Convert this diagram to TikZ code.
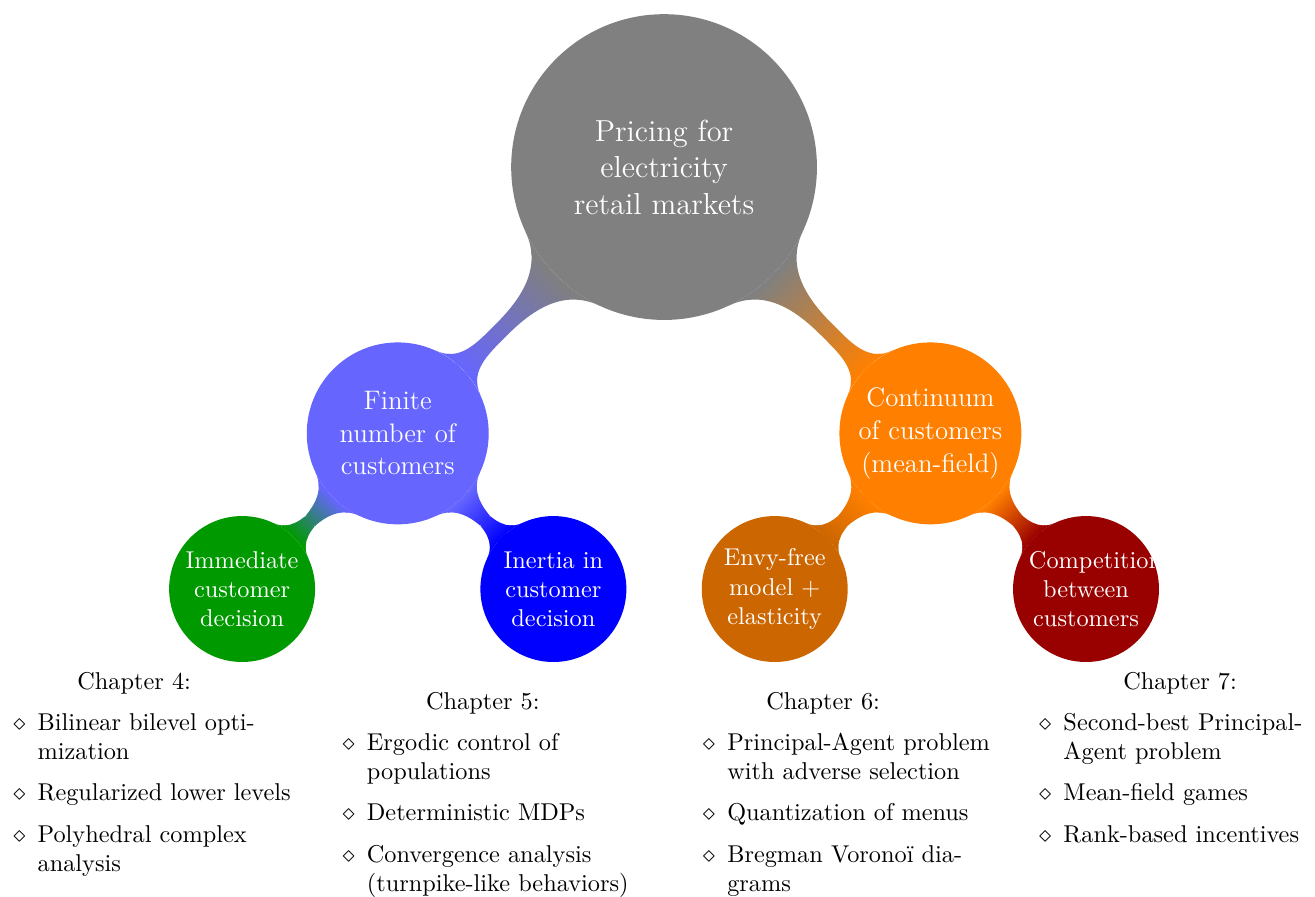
\documentclass[tikz,border=0pt]{standalone}
\usetikzlibrary{mindmap}
\hyphenation{populations}

\makeatletter
\newenvironment{chapitems}{%
  \begin{list}{$\diamond$}{%
    \setlength{\leftmargin}{11.5pt}%
    \setlength{\labelsep}{5pt}%
    \setlength{\labelwidth}{6.5pt}%
    \setlength{\itemsep}{5pt}%
    \setlength{\parsep}{0pt}%
    \setlength{\topsep}{0pt}%
    \setlength{\partopsep}{0pt}%
    \@rightskip=0pt plus 2em\relax
    \tolerance=1000\relax}}%
  {\end{list}}
\makeatother

\tikzset{
  topic/.style={circle, fill=gray, text=white, inner sep=0pt, minimum size=4.42cm, text width=2.85cm, align=flush center, font=\fontsize{12.5}{15}\selectfont},
  branch/.style={circle, text=white, inner sep=0pt, minimum size=2.63cm, text width=2.2cm, align=flush center, font=\fontsize{11}{13.4}\selectfont},
  leaf/.style={circle, text=white, inner sep=0pt, minimum size=2.11cm, text width=1.65cm, align=flush center, font=\normalsize},
  chapter/.style={anchor=base, font=\normalsize},
  notes/.style={anchor=base west, inner sep=0pt, align=left, font=\normalsize},
}

\begin{document}
\begin{tikzpicture}[mindmap]
\useasboundingbox (-9.60,2.415) rectangle (9.41,-10.54);

% concepts
\node[topic] (pricing) at (0,0) {Pricing for electricity retail markets};

\node[branch, fill=blue!60] (finite) at (-3.85,-3.85) {Finite number of customers};
\node[branch, fill=orange] (continuum) at (3.85,-3.85) {Continuum of customers (mean-field)};

\node[leaf, fill=green!60!black] (immediate) at (-6.10,-6.10) {Immediate customer decision};
\node[leaf, fill=blue] (inertia) at (-1.60,-6.10) {Inertia in customer decision};
\node[leaf, fill=orange!80!black] (envy) at (1.60,-6.10) {Envy-free model + elasticity};
\node[leaf, fill=red!60!black] (competition) at (6.10,-6.10) {Competition between customers};

% connections
\path (pricing) to[circle connection bar switch color=from (gray) to (blue!60)] (finite);
\path (pricing) to[circle connection bar switch color=from (gray) to (orange)] (continuum);
\path (finite) to[circle connection bar switch color=from (blue!60) to (green!60!black)] (immediate);
\path (finite) to[circle connection bar switch color=from (blue!60) to (blue)] (inertia);
\path (continuum) to[circle connection bar switch color=from (orange) to (orange!80!black)] (envy);
\path (continuum) to[circle connection bar switch color=from (orange) to (red!60!black)] (competition);

% chapters
\node[chapter] (ch4) at (-7.66,-7.55) {Chapter 4:};
\node[chapter] (ch5) at (-2.62,-7.84) {Chapter 5:};
\node[chapter] (ch6) at (2.30,-7.84) {Chapter 6:};
\node[chapter] (ch7) at (7.46,-7.55) {Chapter 7:};

\node[notes, text width=118.5pt] (list4) at (-9.46,-7.72) {\begin{chapitems}
  \item Bilinear bilevel optimization
  \item Regularized lower levels
  \item Polyhedral complex analysis
\end{chapitems}};
\node[notes, text width=120.5pt] (list5) at (-4.70,-8.01) {\begin{chapitems}
  \item Ergodic control of populations
  \item Deterministic MDPs
  \item Convergence analysis (turnpike-like behaviors)
\end{chapitems}};
\node[notes, text width=121.5pt] (list6) at (0.51,-8.01) {\begin{chapitems}
  \item Principal-Agent problem with adverse selection
  \item Quantization of menus
  \item Bregman Voronoï diagrams
\end{chapitems}};
\node[notes, text width=115.5pt] (list7) at (5.37,-7.72) {\begin{chapitems}
  \item Second-best Principal-Agent problem
  \item Mean-field games
  \item Rank-based incentives
\end{chapitems}};

\end{tikzpicture}
\end{document}
